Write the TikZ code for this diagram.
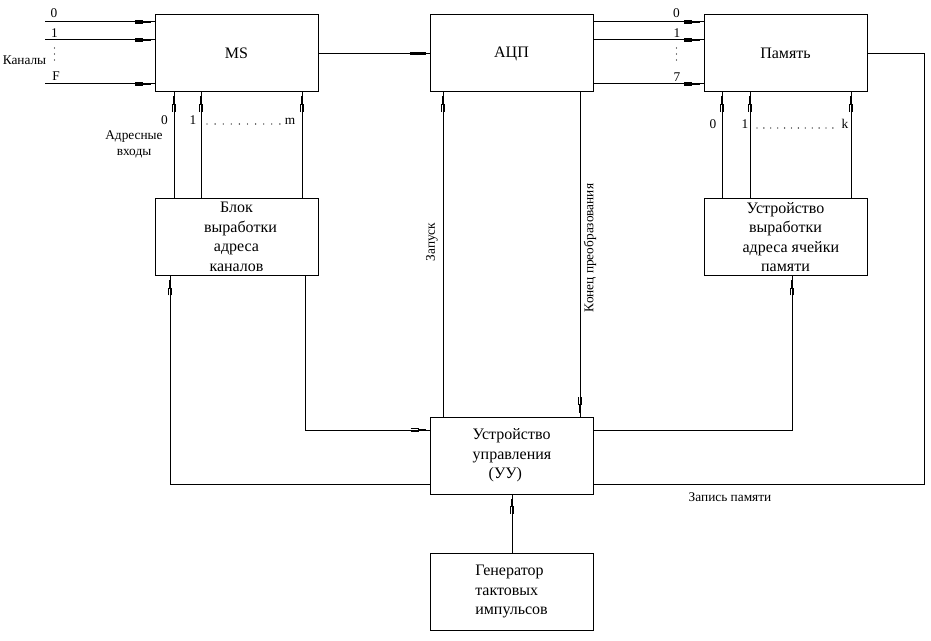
\documentclass[tikz,border=0pt]{standalone}
\usepackage{fontspec}
\setmainfont{Liberation Serif}
\newfontfamily\tnr{Liberation Serif}
\usetikzlibrary{arrows.meta}

\pgfdeclarearrow{
  name = Fork,
  setup code = {
    \pgfarrowssettipend{0pt}
    \pgfarrowssetlineend{0pt}
    \pgfarrowssetvisualbackend{-14.5pt}
    \pgfarrowssetbackend{-14.5pt}
    \pgfarrowsupperhullpoint{-14.5pt}{1.2pt}
    \pgfarrowsupperhullpoint{0pt}{1.2pt}
  },
  drawing code = {
    \pgfsetdash{}{0pt}
    \pgfpathrectangle{\pgfpoint{-9pt}{-0.8pt}}{\pgfpoint{6pt}{1.6pt}}
    \pgfusepathqfill
    \pgfsetlinewidth{0.5pt}
    \pgfpathmoveto{\pgfpoint{-14.5pt}{1pt}}\pgfpathlineto{\pgfpoint{-9pt}{1pt}}
    \pgfpathmoveto{\pgfpoint{-14.5pt}{-1pt}}\pgfpathlineto{\pgfpoint{-9pt}{-1pt}}
    \pgfpathmoveto{\pgfpoint{-14.5pt}{0pt}}\pgfpathlineto{\pgfpoint{-9pt}{0pt}}
    \pgfpathmoveto{\pgfpoint{-9pt}{-1.25pt}}\pgfpathlineto{\pgfpoint{-9pt}{1.25pt}}
    \pgfusepathqstroke
  }
}

\begin{document}
\begin{tikzpicture}[x=0.75pt,y=-0.75pt,line width=0.75pt,
  box/.style={draw,rectangle,minimum width=122.25pt,minimum height=57.75pt,
    inner sep=0pt,font=\tnr\fontsize{12}{14.6}\selectfont,align=center},
  lbl/.style={font=\tnr\fontsize{10}{12}\selectfont,inner sep=0pt}]
\useasboundingbox (0,0) rectangle (931,641);

% boxes
\node[box] (ms)   at (236.5,53.5) {MS};
\node[box] (adc)  at (511.5,53.5) {АЦП};
\node[box] (pam)  at (785.5,53.5) {Память};
\node[box] (blok) at (236.5,237) {Блок\\\hspace*{6pt}выработки\\адреса\\каналов};
\node[box] (uva)  at (785.5,237) {Устройство\\выработки\\\hspace*{8pt}адреса ячейки\\памяти};
\node[box,align=left] (uu) at (512,455.5) {Устройство\\управления\\\hspace*{12pt}(УУ)};
\node[box,align=left] (gen) at (511.5,591.5) {Генератор\\тактовых\\импульсов};

% helper coordinates
\coordinate (xin) at (45,0);
\coordinate (yi0) at (0,22);
\coordinate (yi1) at (0,40);
\coordinate (yiF) at (0,84);
\coordinate (xa0) at (174,0);
\coordinate (xa1) at (201,0);
\coordinate (xam) at (302,0);
\coordinate (xb0) at (722,0);
\coordinate (xb1) at (750,0);
\coordinate (xbk) at (851,0);
\coordinate (xz) at (443,0);
\coordinate (xk) at (580,0);
\coordinate (xg) at (512,0);
\coordinate (xr) at (924,0);
\coordinate (yw) at (0,484);
\coordinate (yc) at (0,430);
\coordinate (xu) at (792,0);
\coordinate (xl) at (170,0);
\coordinate (xbl) at (305,0);

% channel inputs
\foreach \yy in {yi0,yi1,yiF}
  \draw[-{Fork}] (xin |- \yy) -- (ms.west |- \yy);
\node[lbl] (c0) at (54,13) {0};
\node[lbl] (c1) at (54.5,33) {1};
\node[lbl] (cF) at (56,76) {F};
\foreach \yy in {48,54,60} \fill (54.5,\yy) circle[radius=0.5pt];
\node[lbl] (kan) at (24.5,60.5) {Каналы};

% MS -> ADC
\draw[-{Fork}] (ms.east) -- (adc.west);

% ADC -> memory
\foreach \yy in {yi0,yi1,yiF}
  \draw[-{Fork}] (adc.east |- \yy) -- (pam.west |- \yy);
\node[lbl] (d0) at (676.5,13) {0};
\node[lbl] (d1) at (677,33) {1};
\node[lbl] (d7) at (677,77) {7};
\foreach \yy in {48,54,60} \fill (676.5,\yy) circle[radius=0.5pt];

% address lines to MS
\foreach \c in {xa0,xa1,xam}
  \draw[-{Fork}] (\c |- blok.north) -- (\c |- ms.south);
\node[lbl] (a0) at (164.5,120) {0};
\node[lbl] (a1) at (193,120) {1};
\node[lbl] (am) at (290,121) {m};
\foreach \i in {0,...,9} \fill (207+8.1*\i,124) circle[radius=0.5pt];
\node[lbl,align=center] (adr) at (134,144) {Адресные\\входы};

% address lines to memory
\foreach \c in {xb0,xb1,xbk}
  \draw[-{Fork}] (\c |- uva.north) -- (\c |- pam.south);
\node[lbl] (b0) at (713,124) {0};
\node[lbl] (b1) at (745,124) {1};
\node[lbl] (bk) at (845,124) {k};
\foreach \i in {0,...,11} \fill (757+6.9*\i,128) circle[radius=0.5pt];

% ADC <-> control unit
\draw[-{Fork}] (xz |- uu.north) -- (xz |- adc.south);
\draw[-{Fork}] (xk |- adc.south) -- (xk |- uu.north);
\node[lbl,rotate=90] (zap) at (432,242) {Запуск};
\node[lbl,rotate=90] (kon) at (590,248) {Конец преобразования};

% generator -> control unit
\draw[-{Fork}] (xg |- gen.north) -- (xg |- uu.south);

% memory write line
\draw (pam.east) -| (xr |- yw) -- (uu.east |- yw);
\node[lbl] (zp) at (730,497) {Запись памяти};

% control unit -> memory address unit
\draw[-{Fork}] (uu.east |- yc) -| (xu |- uva.south);

% control unit -> channel address unit
\draw[-{Fork}] (uu.west |- yw) -| (xl |- blok.south);

% channel address unit -> control unit
\draw[-{Fork}] (xbl |- blok.south) |- (uu.west |- yc);
\end{tikzpicture}
\end{document}
